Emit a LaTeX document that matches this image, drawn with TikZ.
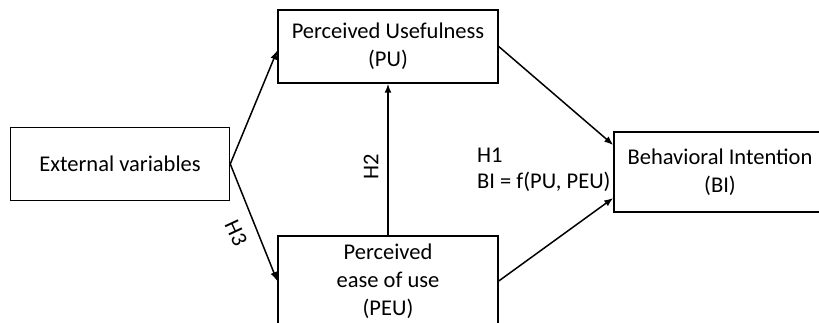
\documentclass[tikz,border=0pt]{standalone}
\usepackage{fontspec}
\setmainfont{Carlito}
\usetikzlibrary{arrows.meta}
\begin{document}
\begin{tikzpicture}[x=1pt,y=-1pt,
  box/.style={draw, line width=1.5pt, rectangle, align=center, inner sep=0pt,
    font=\fontsize{22.5}{28}\selectfont},
  lab/.style={font=\fontsize{22.5}{26}\selectfont, inner sep=0pt},
  conn/.style={line width=1.5pt, -{Latex[length=9pt,width=7pt]}}]
\clip (0,0) rectangle (819,323);
\node[box, minimum width=219pt, minimum height=73pt] (ext) at (120,164) {External variables};
\node[box, minimum width=220pt, minimum height=73pt] (pu) at (388,46.5) {Perceived Usefulness\\(PU)};
\node[box, minimum width=220pt, minimum height=90pt] (peu) at (388,281) {Perceived\\ease of use\\(PEU)};
\node[box, minimum width=212pt, minimum height=80pt] (bi) at (720,172) {Behavioral Intention\\(BI)};
\draw[conn] (ext.east) -- ([yshift=-4pt]pu.west);
\draw[conn] (ext.east) -- (peu.west);
\draw[conn] (peu.north) -- (pu.south);
\draw[conn] (pu.east) -- ([yshift=27pt]bi.west);
\draw[conn] (peu.east) -- ([yshift=-26pt]bi.west);
\node[lab, rotate=90] (h2) at (371,167) {H2};
\node[lab, rotate=-65] (h3) at (236,233) {H3};
\node[lab, anchor=west, align=left] (h1) at (477,170) {H1\\BI = f(PU, PEU)};
\end{tikzpicture}
\end{document}
